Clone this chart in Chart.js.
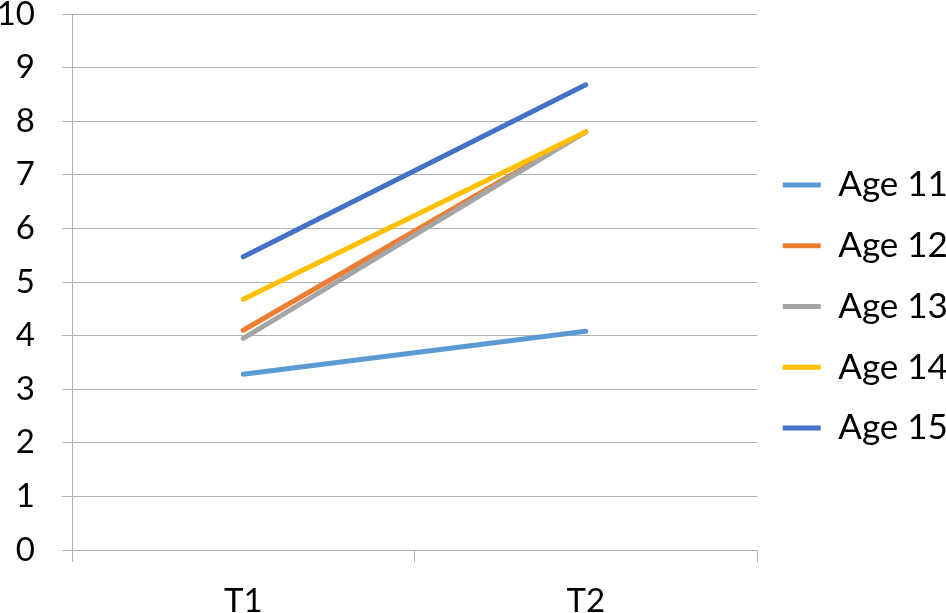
<!DOCTYPE html>
<html>
<head>
<meta charset="utf-8">
<script src="https://cdn.jsdelivr.net/npm/chart.js@4"></script>
<style>
  html, body { margin: 0; padding: 0; background: #fff; }
  #wrap { width: 946px; height: 613px; }
</style>
</head>
<body>
<div id="wrap"><canvas id="ageChart" width="946" height="613"></canvas></div>
<script>
const categories = ["T1", "T2"];
const seriesNames = ["Age 11", "Age 12", "Age 13", "Age 14", "Age 15"];
const age11 = [3.28, 4.08];
const age12 = [4.1, 7.8];
const age13 = [3.95, 7.8];
const age14 = [4.68, 7.8];
const age15 = [5.47, 8.68];
const seriesColors = ["#5B9BD5", "#ED7D31", "#A5A5A5", "#FFC000", "#4472C4"];
const yMin = 0;
const yMax = 10;

const gridColor = "#b0b0b0";
const fontFamily = "Lato, 'Open Sans', sans-serif";

const allSeries = [age11, age12, age13, age14, age15];

const datasets = allSeries.map((values, i) => ({
  label: seriesNames[i],
  data: values,
  borderColor: seriesColors[i],
  backgroundColor: seriesColors[i],
  borderWidth: 5,
  borderCapStyle: "round",
  pointRadius: 0,
  pointHoverRadius: 0,
  tension: 0,
  order: allSeries.length - i   // later series drawn on top, like Excel
}));

Chart.defaults.font.family = fontFamily;
Chart.defaults.color = "#000";

const ageChart = new Chart(document.getElementById("ageChart"), {
  type: "line",
  data: {
    labels: categories,
    datasets: datasets
  },
  options: {
    responsive: false,
    animation: false,
    layout: { padding: 0 },
    plugins: {
      tooltip: { enabled: false },
      legend: {
        position: "right",
        align: "center",
        maxWidth: 189,
        labels: {
          usePointStyle: true,
          pointStyle: "line",
          pointStyleWidth: 38,
          boxHeight: 5,
          padding: 25.75,
          color: "#000",
          font: { size: 35 },
          sort: (a, b) => a.datasetIndex - b.datasetIndex
        }
      }
    },
    scales: {
      x: {
        offset: true,
        afterFit: (s) => { s.height = 63; },
        border: { display: true, color: gridColor, width: 1 },
        grid: {
          offset: true,
          drawOnChartArea: false,
          drawTicks: true,
          tickLength: 12,
          color: gridColor
        },
        ticks: {
          padding: 20,
          font: { size: 33 },
          color: "#000"
        }
      },
      y: {
        min: yMin,
        max: yMax,
        afterFit: (s) => { s.width = 72; s.paddingTop = 14; },
        border: { display: true, color: gridColor, width: 1 },
        grid: {
          color: gridColor,
          lineWidth: 1,
          tickLength: 10
        },
        ticks: {
          stepSize: 1,
          padding: 27,
          font: { size: 33, lineHeight: 0.85 },
          color: "#000"
        }
      }
    }
  }
});
</script>
</body>
</html>
